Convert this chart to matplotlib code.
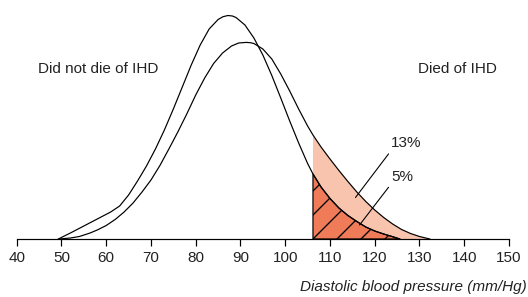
import numpy as np
import matplotlib
matplotlib.use("Agg")
import matplotlib.pyplot as plt
from matplotlib import font_manager

# ---------------- data ----------------
bp_no_ihd = [49.3, 52, 55, 58, 61, 63, 65, 67, 69, 71, 73, 75, 77, 79, 81, 83, 85,
             86.1, 87.2, 88.2, 89, 91, 93, 95, 97, 99, 101, 103, 105, 106.2, 108,
             110, 112, 114, 116, 118, 120, 122, 124, 125.6]
dens_no_ihd = [0, 6, 13, 20, 27, 33, 44, 58, 73, 90, 109, 130, 152, 174, 194, 210, 219.5,
               222.3, 223.5, 223, 221.5, 214, 201, 184, 163.5, 141, 118, 96, 75.5, 65, 52,
               40.5, 31, 23.5, 17.5, 12, 8, 5, 2.3, 0]

bp_ihd = [49.5, 52, 54, 56.4, 58, 60, 62, 64, 66, 68, 70, 72, 74, 76, 78, 80, 82, 84,
          86, 88, 89.6, 91.3, 92.2, 93, 95, 97, 99, 101, 103, 105, 106.2, 108, 110,
          112, 114, 116, 118, 120, 122, 124, 126, 128, 130, 132.3]
dens_ihd = [0, 1, 2.5, 6, 9, 13.5, 19.5, 27, 36, 47, 59, 73.5, 90, 107, 125, 144, 161, 175.5,
            186, 193, 196, 196.6, 196.3, 195.5, 190, 180, 165, 148, 130, 113, 104, 92, 80,
            68.5, 57.5, 47, 37.5, 29, 21.5, 15, 9.5, 5.5, 2.5, 0]

cutoff = 106.2
x_ticks = [40, 50, 60, 70, 80, 90, 100, 110, 120, 130, 140, 150]
group_labels = ["Did not die of IHD", "Died of IHD"]
group_label_x = [44.8, 129.6]
group_label_y = 170
pct_labels = ["13%", "5%"]
pct_text_xy = [(123.7, 95.7), (123.7, 62.3)]
pct_point_xy = [(115.7, 41.5), (116.6, 14.0)]
xlabel = "Diastolic blood pressure (mm/Hg)"

# ---------------- style ----------------
W, H, DPI = 528, 297, 72

def pick_font(names):
    for n in names:
        try:
            font_manager.findfont(font_manager.FontProperties(family=n), fallback_to_default=False)
            return n
        except Exception:
            continue
    return "DejaVu Sans"

font = pick_font(["Liberation Sans Narrow", "Liberation Sans", "DejaVu Sans"])
narrow = "Narrow" in font
fs = 16 if narrow else 15.2
plt.rcParams["font.family"] = [font, "DejaVu Sans"]
plt.rcParams["hatch.linewidth"] = 1.3
plt.rcParams["hatch.color"] = "black"

pink = "#F9C4AE"
coral = "#EF7B58"

fig = plt.figure(figsize=(W / DPI, H / DPI), dpi=DPI)
x0, x1, ybase = 16.7, 509.0, 239.0
ax = fig.add_axes([x0 / W, (H - ybase) / H, (x1 - x0) / W, ybase / H])
ax.set_xlim(40, 150)
ax.set_ylim(0, ybase)

bx1 = np.array(bp_no_ihd); by1 = np.array(dens_no_ihd)
bx2 = np.array(bp_ihd); by2 = np.array(dens_ihd)

m2 = bx2 >= cutoff
ax.fill_between(bx2[m2], 0, by2[m2], facecolor=pink, edgecolor="none", lw=0, zorder=1)
m1 = bx1 >= cutoff
ax.fill_between(bx1[m1], 0, by1[m1], facecolor=coral, edgecolor="black", hatch="/",
                lw=1.2, zorder=2)

ax.plot(bx1, by1, color="black", lw=1.2, zorder=3, solid_joinstyle="round")
ax.plot(bx2, by2, color="black", lw=1.2, zorder=3, solid_joinstyle="round")

for lab, lx in zip(group_labels, group_label_x):
    ax.text(lx, group_label_y, lab, ha="left", va="center", fontsize=fs, color="#222222")

for lab, txy, pxy in zip(pct_labels, pct_text_xy, pct_point_xy):
    ax.annotate(lab, xy=pxy, xytext=txy, ha="left", va="center", fontsize=fs,
                color="#222222",
                arrowprops=dict(arrowstyle="-", lw=1.1, color="black",
                                shrinkA=2, shrinkB=0, relpos=(0.0, 0.0)))

for s in ["left", "right", "top"]:
    ax.spines[s].set_visible(False)
ax.spines["bottom"].set_linewidth(1.2)
ax.set_yticks([])
ax.set_xticks(x_ticks)
ax.set_xticklabels([str(t) for t in x_ticks])
ax.tick_params(axis="x", direction="out", length=7, width=1.2, pad=5,
               labelsize=fs, labelcolor="#222222")

fig.text(526.7 / W, (H - 291) / H, xlabel, ha="right", va="baseline",
         fontsize=fs, style="italic", color="#222222")

fig.savefig("out.png", dpi=DPI)
